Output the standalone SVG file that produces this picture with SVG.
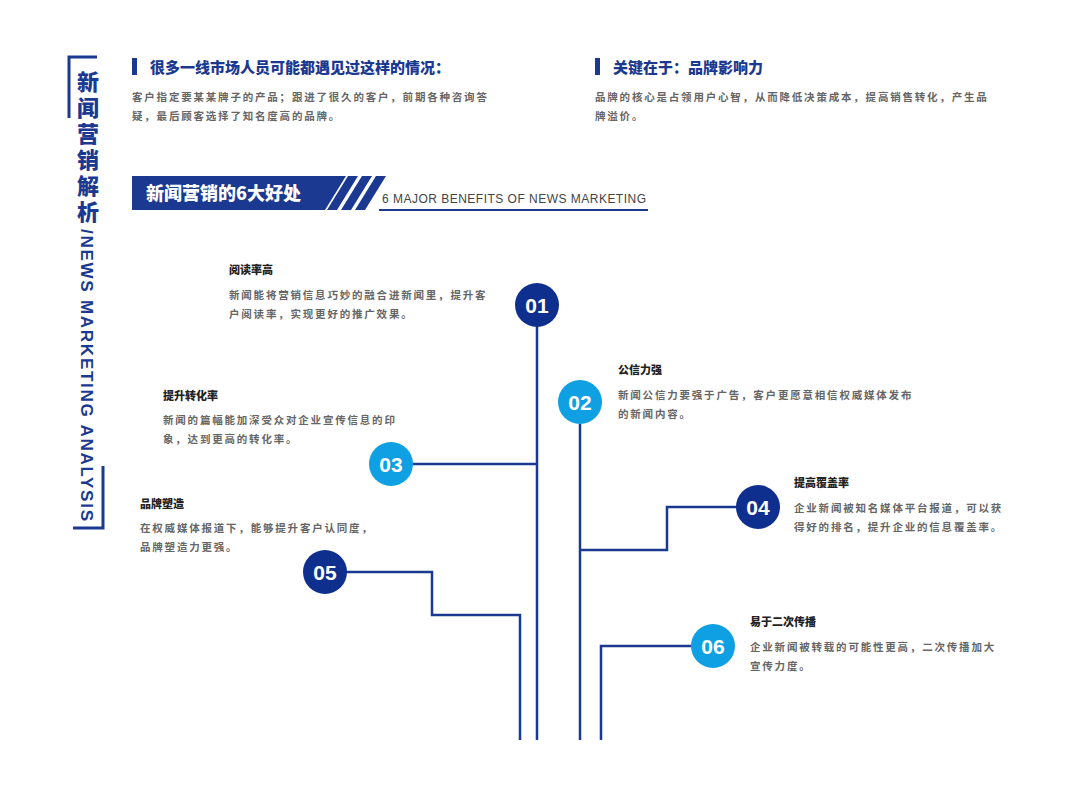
<svg xmlns="http://www.w3.org/2000/svg" width="1080" height="796" viewBox="0 0 1080 796">
<style>
.h{font-family:"Noto Sans CJK SC","Liberation Sans",sans-serif;font-weight:900;fill:#1b3991}
.t{font-family:"Noto Sans CJK SC",sans-serif;font-weight:900;font-size:11px;fill:#222}
.d{font-family:"Noto Sans CJK SC",sans-serif;font-size:10.5px;fill:#666;letter-spacing:1.8px;font-weight:bold}
.n{font-family:"Liberation Sans",sans-serif;font-weight:bold;font-size:21px;fill:#fff;text-anchor:middle}
.c{fill:none;stroke:#1b3991;stroke-width:2.5}
.dk{fill:#0f2f8f}.lt{fill:#0ea0e2}
</style>
<rect width="1080" height="796" fill="#fff"/>
<g id="side">
<path d="M97 57H69V118" fill="none" stroke="#1b3991" stroke-width="3"/>
<path d="M103 466V528H73" fill="none" stroke="#1b3991" stroke-width="3"/>
<text class="h" font-size="22" text-anchor="middle"><tspan x="88" y="90">新</tspan><tspan x="88" y="116">闻</tspan><tspan x="88" y="142">营</tspan><tspan x="88" y="168">销</tspan><tspan x="88" y="194">解</tspan><tspan x="88" y="220">析</tspan></text>
<text font-family="Liberation Sans,sans-serif" font-weight="bold" fill="#1b3991" font-size="17" textLength="292" transform="translate(81,229) rotate(90)">/NEWS MARKETING ANALYSIS</text>
</g>
<g id="top">
<rect x="132" y="58" width="5" height="17" fill="#1b3991"/>
<text class="h" x="150" y="73" font-size="15" font-weight="bold">很多一线市场人员可能都遇见过这样的情况：</text>
<text class="d" x="132" y="101">客户指定要某某牌子的产品；跟进了很久的客户，前期各种咨询答</text>
<text class="d" x="132" y="120">疑，最后顾客选择了知名度高的品牌。</text>
<rect x="595" y="58" width="5" height="17" fill="#1b3991"/>
<text class="h" x="613" y="73" font-size="15" font-weight="bold">关键在于：品牌影响力</text>
<text class="d" x="595" y="101">品牌的核心是占领用户心智，从而降低决策成本，提高销售转化，产生品</text>
<text class="d" x="595" y="120">牌溢价。</text>
</g>
<g id="banner">
<polygon points="132,176 346,176 325,210 132,210" fill="#1b3991"/>
<polygon points="348,176 358,176 337,210 327,210" fill="#1b3991"/>
<polygon points="362,176 372,176 351,210 341,210" fill="#1b3991"/>
<polygon points="376,176 386,176 365,210 355,210" fill="#1b3991"/>
<text x="146" y="200" font-family="Noto Sans CJK SC,sans-serif" font-weight="900" font-size="18" fill="#fff">新闻营销的6大好处</text>
<text x="382" y="203" font-family="Liberation Sans,sans-serif" font-size="12" textLength="264" fill="#444">6 MAJOR BENEFITS OF NEWS MARKETING</text>
<line x1="379" y1="210" x2="648" y2="210" stroke="#1b3991" stroke-width="2"/>
</g>
<g id="connectors">
<path class="c" d="M537 325V740"/>
<path class="c" d="M580 424V740"/>
<path class="c" d="M405 464H537"/>
<path class="c" d="M740 507H667V550H580"/>
<path class="c" d="M345 572H432V615H520V740"/>
<path class="c" d="M695 646H601V740"/>
</g>
<g id="n1"><circle class="dk" cx="537" cy="305" r="22"/><text class="n" x="537" y="313">01</text>
<text class="t" x="229" y="274">阅读率高</text><text class="d" x="229" y="299">新闻能将营销信息巧妙的融合进新闻里，提升客</text><text class="d" x="229" y="318">户阅读率，实现更好的推广效果。</text></g>
<g id="n2"><circle class="lt" cx="580" cy="402" r="22"/><text class="n" x="580" y="410">02</text>
<text class="t" x="618" y="374">公信力强</text><text class="d" x="618" y="399">新闻公信力要强于广告，客户更愿意相信权威媒体发布</text><text class="d" x="618" y="418">的新闻内容。</text></g>
<g id="n3"><circle class="lt" cx="391" cy="464" r="22"/><text class="n" x="391" y="472">03</text>
<text class="t" x="163" y="400">提升转化率</text><text class="d" x="163" y="424">新闻的篇幅能加深受众对企业宣传信息的印</text><text class="d" x="163" y="443">象，达到更高的转化率。</text></g>
<g id="n4"><circle class="dk" cx="758" cy="507" r="22"/><text class="n" x="758" y="515">04</text>
<text class="t" x="794" y="487">提高覆盖率</text><text class="d" x="794" y="512">企业新闻被知名媒体平台报道，可以获</text><text class="d" x="794" y="531">得好的排名，提升企业的信息覆盖率。</text></g>
<g id="n5"><circle class="dk" cx="325" cy="572" r="22"/><text class="n" x="325" y="580">05</text>
<text class="t" x="140" y="508">品牌塑造</text><text class="d" x="140" y="532">在权威媒体报道下，能够提升客户认同度，</text><text class="d" x="140" y="551">品牌塑造力更强。</text></g>
<g id="n6"><circle class="lt" cx="713" cy="646" r="22"/><text class="n" x="713" y="654">06</text>
<text class="t" x="750" y="626">易于二次传播</text><text class="d" x="750" y="651">企业新闻被转载的可能性更高，二次传播加大</text><text class="d" x="750" y="670">宣传力度。</text></g>
</svg>
